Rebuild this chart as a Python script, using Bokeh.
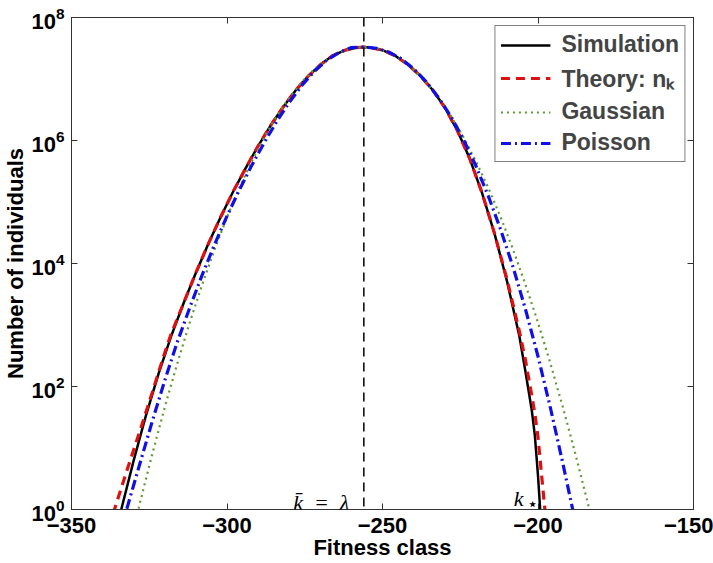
from bokeh.plotting import figure
from bokeh.models import (FixedTicker, LogTickFormatter, LinearAxis, LogAxis, Span,
                          Label, Legend, LegendItem, CustomJSTickFormatter)
from bokeh.embed import file_html
from bokeh.resources import INLINE

# ---------------- data ----------------
sim_x = [-336, -334, -330, -326, -322, -318, -314, -310, -306, -302, -298, -294, -290,
         -286, -282, -278, -274, -270, -266, -262, -258, -256, -254, -250, -246, -242,
         -238, -234, -230, -226, -222, -218, -214, -210, -206, -204, -202, -201, -200,
         -199.3, -199]
sim_y = [0.4, 1.0, 6.3, 34.7, 162, 646, 2.24e3, 7.08e3, 2.09e4, 5.75e4, 1.48e5, 3.55e5,
         8.13e5, 1.74e6, 3.47e6, 6.46e6, 1.10e7, 1.70e7, 2.40e7, 2.95e7, 3.24e7, 3.31e7,
         3.24e7, 2.95e7, 2.40e7, 1.74e7, 1.15e7, 6.76e6, 3.47e6, 1.48e6, 5.13e5, 1.41e5,
         3.09e4, 5.25e3, 661, 170, 41, 15.8, 3.55, 1.0, 0.5]

theory_x = [-338, -336, -332, -328, -324, -320, -318, -314, -310, -306, -302, -298, -294,
            -290, -286, -282, -278, -274, -270, -266, -262, -258, -256, -254, -250, -246,
            -242, -238, -234, -230, -226, -222, -218, -214, -210, -206, -204, -202, -201,
            -200, -199, -198, -197.5]
theory_y = [0.5, 1.07, 4.6, 19, 81, 355, 708, 2.24e3, 7.08e3, 2.09e4, 5.75e4, 1.48e5,
            3.55e5, 8.13e5, 1.74e6, 3.47e6, 6.46e6, 1.10e7, 1.70e7, 2.40e7, 2.95e7, 3.24e7,
            3.31e7, 3.24e7, 2.95e7, 2.40e7, 1.74e7, 1.15e7, 6.76e6, 3.47e6, 1.48e6, 5.13e5,
            1.41e5, 3.09e4, 5.6e3, 794, 263, 71, 36, 15, 4.4, 1.3, 0.7]

gauss_x = [-332, -328, -324, -320, -316, -312, -308, -304, -300, -296, -292, -288, -284,
           -280, -276, -272, -268, -264, -260, -256, -252, -248, -244, -240, -236, -232,
           -228, -224, -220, -216, -212, -208, -204, -200, -196, -192, -188, -184, -180]
gauss_y = [0.18, 1.28, 8.09, 46.0, 236, 1090, 4500, 1.68e4, 5.65e4, 1.71e5, 4.65e5, 1.14e6,
           2.51e6, 4.97e6, 8.87e6, 1.43e7, 2.06e7, 2.68e7, 3.14e7, 3.31e7, 3.14e7, 2.68e7,
           2.06e7, 1.43e7, 8.87e6, 4.97e6, 2.51e6, 1.14e6, 4.65e5, 1.71e5, 5.65e4, 1.68e4,
           4500, 1090, 236, 46.0, 8.09, 1.28, 0.18]

pois_x = [-334, -332, -328, -324, -320, -316, -312, -308, -304, -300, -296, -292, -288,
          -284, -280, -276, -272, -268, -264, -260, -256, -252, -248, -244, -240, -236,
          -232, -228, -224, -220, -216, -212, -208, -204, -200, -196, -192, -188]
pois_y = [0.5, 1.12, 5.6, 27.5, 126, 525, 1.9e3, 6.5e3, 2.04e4, 5.9e4, 1.58e5, 3.98e5,
          9.3e5, 2.04e6, 4.17e6, 7.76e6, 1.32e7, 2.0e7, 2.69e7, 3.24e7, 3.31e7, 3.16e7,
          2.75e7, 2.14e7, 1.48e7, 9.1e6, 5.0e6, 2.45e6, 1.05e6, 3.89e5, 1.26e5, 3.55e4,
          8.7e3, 1.78e3, 309, 44.7, 5.6, 0.63]

x_ticks = [-350, -300, -250, -200, -150]
x_tick_labels = ["\u2212350", "\u2212300", "\u2212250", "\u2212200", "\u2212150"]
y_ticks = [1, 1e2, 1e4, 1e6, 1e8]
mean_class = -256          # k-bar = lambda
kstar_class = -199.3

# ---------------- figure ----------------
FONT = "Liberation Sans"
p = figure(width=713, height=563, x_range=(-350, -150), y_range=(1, 1e8),
           y_axis_type="log", output_backend="svg", toolbar_location=None,
           min_border_left=70, min_border_right=20, min_border_top=17,
           min_border_bottom=54)
p.xgrid.visible = False
p.ygrid.visible = False
p.outline_line_color = "#333333"
p.outline_line_width = 1
p.background_fill_color = "white"
p.border_fill_color = "white"

def style_axis(ax, show_labels=True):
    ax.major_tick_in = 6
    ax.major_tick_out = 0
    ax.minor_tick_in = 0
    ax.minor_tick_out = 0
    ax.axis_line_color = "#333333"
    ax.major_tick_line_color = "#333333"
    ax.major_label_text_font = FONT
    ax.major_label_text_font_style = "bold"
    ax.major_label_text_color = "black"
    ax.major_label_text_font_size = "22px"
    ax.axis_label_text_color = "black"
    if not show_labels:
        ax.formatter = CustomJSTickFormatter(code="return ''")
        ax.major_label_text_font_size = "1px"
        ax.major_label_text_alpha = 0
        ax.major_label_standoff = 0

xa = p.xaxis[0]
xa.ticker = FixedTicker(ticks=x_ticks)
xa.major_label_overrides = {t: s for t, s in zip(x_ticks, x_tick_labels)}
style_axis(xa)
xa.major_label_standoff = 8
xa.axis_label = "Fitness class"
xa.axis_label_text_font = FONT
xa.axis_label_text_font_style = "bold"
xa.axis_label_text_font_size = "22px"
xa.axis_label_standoff = -1

ya = p.yaxis[0]
ya.ticker = FixedTicker(ticks=y_ticks)
ya.formatter = LogTickFormatter()
style_axis(ya)
ya.major_label_standoff = 7
ya.axis_label = "Number of individuals"
ya.axis_label_text_font = FONT
ya.axis_label_text_font_style = "bold"
ya.axis_label_text_font_size = "22px"
ya.axis_label_standoff = 0

top = LinearAxis(ticker=FixedTicker(ticks=x_ticks))
style_axis(top, show_labels=False)
p.add_layout(top, "above")
right = LogAxis(ticker=FixedTicker(ticks=y_ticks))
style_axis(right, show_labels=False)
p.add_layout(right, "right")

# ---------------- curves ----------------
r_sim = p.line(sim_x, sim_y, line_color="black", line_width=2.5)
r_th = p.line(theory_x, theory_y, line_color="#dd1111", line_width=3.2, line_dash="9 6")
r_ga = p.line(gauss_x, gauss_y, line_color="#5e9a34", line_width=2.2, line_dash="2 4")
r_po = p.line(pois_x, pois_y, line_color="#1010e6", line_width=3.2, line_dash="10 4 2 4")

p.add_layout(Span(location=mean_class, dimension="height", line_color="black",
                  line_width=1.5, line_dash="9 6"))

p.add_layout(Label(x=mean_class - 22.7, y=1.3, text="k\u0304\u2002=\u2002\u03bb",
                   text_font="Liberation Serif", text_font_style="italic",
                   text_font_size="22px", text_baseline="alphabetic", text_color="black"))
p.add_layout(Label(x=kstar_class - 8.5, y=1.5, text="k",
                   text_font="Liberation Serif", text_font_style="italic",
                   text_font_size="22px", text_baseline="alphabetic", text_color="black"))
p.add_layout(Label(x=kstar_class - 4.2, y=1.25, text="\u22c6",
                   text_font="DejaVu Sans", text_font_size="18px",
                   text_baseline="alphabetic", text_color="black"))

legend = Legend(items=[LegendItem(label="Simulation", renderers=[r_sim]),
                       LegendItem(label="Theory: n\u2096", renderers=[r_th]),
                       LegendItem(label="Gaussian", renderers=[r_ga]),
                       LegendItem(label="Poisson", renderers=[r_po])],
                location="top_right")
legend.label_text_font = FONT
legend.label_text_font_style = "bold"
legend.label_text_font_size = "23px"
legend.glyph_width = 50
legend.glyph_height = 26
legend.label_height = 26
legend.spacing = 4
legend.padding = 5
legend.margin = 8
legend.label_standoff = 11
legend.border_line_color = "black"
legend.border_line_width = 1
legend.background_fill_color = "white"
legend.background_fill_alpha = 1
p.add_layout(legend)

open("out.html", "w").write(file_html(p, INLINE))
